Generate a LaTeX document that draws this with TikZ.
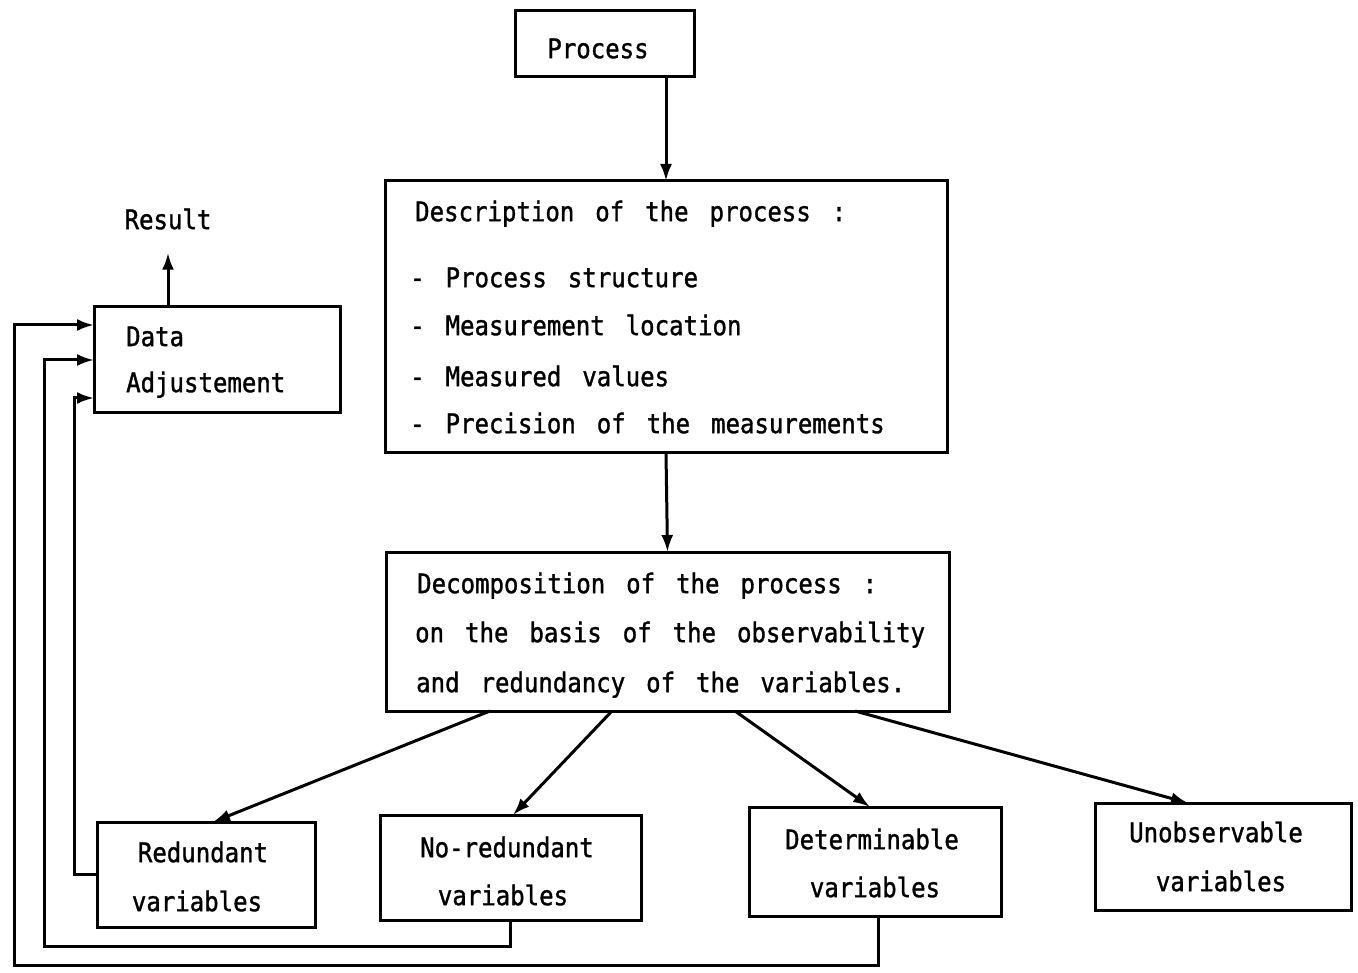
\documentclass[tikz,border=0pt]{standalone}
\usepackage{fontspec}
\usetikzlibrary{arrows.meta}
\newfontfamily\tw[FakeStretch=0.89,WordSpace=1.45,FakeBold=1.2]{DejaVu Sans Mono}
\begin{document}
\begin{tikzpicture}[x=1pt,y=-1pt,
  box/.style={draw,line width=3pt,inner sep=0pt,outer sep=0pt},
  txt/.style={font=\tw\fontsize{27}{30}\selectfont,inner sep=0pt},
  arr/.style={line width=3pt,-{Latex[length=17pt,width=12pt]}},
  fb/.style={line width=3pt,-{Latex[length=17pt,width=12pt]}}]
\useasboundingbox (0,0) rectangle (1358,973);
% boxes
\node[box,minimum width=179pt,minimum height=66pt] (proc) at (604.5,44) {};
\node[box,minimum width=562pt,minimum height=272pt] (desc) at (666,317) {};
\node[box,minimum width=563pt,minimum height=159pt] (decomp) at (667.5,631.5) {};
\node[box,minimum width=246pt,minimum height=106pt] (data) at (217,360) {};
\node[box,minimum width=218pt,minimum height=105pt] (red) at (206,874.5) {};
\node[box,minimum width=261pt,minimum height=105pt] (nored) at (510.5,867.5) {};
\node[box,minimum width=252pt,minimum height=109pt] (det) at (875,861.5) {};
\node[box,minimum width=256pt,minimum height=107pt] (unobs) at (1223,856.5) {};
% texts
\node[txt,anchor=mid] (tproc) at (598,56) {Process};
\node[txt,anchor=mid west] (d1) at (415,219) {Description of the process :};
\node[txt,anchor=mid west] (d2) at (410,285) {- Process structure};
\node[txt,anchor=mid west] (d3) at (410,333) {- Measurement location};
\node[txt,anchor=mid west] (d4) at (410,384) {- Measured values};
\node[txt,anchor=mid west] (d5) at (410,431) {- Precision of the measurements};
\node[txt,anchor=mid west] (e1) at (417,591) {Decomposition of the process :};
\node[txt,anchor=mid west] (e2) at (415,640) {on the basis of the observability};
\node[txt,anchor=mid west] (e3) at (416,690) {and redundancy of the variables.};
\node[txt,anchor=mid west] (t1) at (126,344) {Data};
\node[txt,anchor=mid west] (t2) at (126,390) {Adjustement};
\node[txt,anchor=mid] (result) at (168,227) {Result};
\node[txt,anchor=mid] (r1) at (203,860) {Redundant};
\node[txt,anchor=mid] (r2) at (197,909) {variables};
\node[txt,anchor=mid] (n1) at (507,855) {No-redundant};
\node[txt,anchor=mid] (n2) at (503,903) {variables};
\node[txt,anchor=mid] (m1) at (872,847) {Determinable};
\node[txt,anchor=mid] (m2) at (875,895) {variables};
\node[txt,anchor=mid] (u1) at (1216,840) {Unobservable};
\node[txt,anchor=mid] (u2) at (1221,889) {variables};
% main arrows
\draw[arr] (desc.north |- proc.south) -- (desc.north);
\draw[arr] (desc.south) -- (decomp.north);
\draw[arr] ([xshift=-177.5pt]decomp.south) -- ([xshift=7pt]red.north);
\draw[arr] ([xshift=-55.5pt]decomp.south) -- ([xshift=2.5pt]nored.north);
\draw[arr] ([xshift=67.5pt]decomp.south) -- ([xshift=-5pt]det.north);
\draw[arr] ([xshift=187.5pt]decomp.south) -- ([xshift=-35pt]unobs.north);
\draw[arr] ([xshift=-49pt]data.north) -- ([yshift=-23pt]result.south);
% feedback loops
\draw[fb] (red.west) -- (74,874.5) -- (74,398) -- ([yshift=-38pt]data.west);
\draw[fb] (nored.south) -- (510.5,946) -- (44,946) -- (44,360) -- (data.west);
\draw[fb] ([xshift=3pt]det.south) -- (878,965) -- (14,965) -- (14,325) -- ([yshift=35pt]data.west);
\end{tikzpicture}
\end{document}
